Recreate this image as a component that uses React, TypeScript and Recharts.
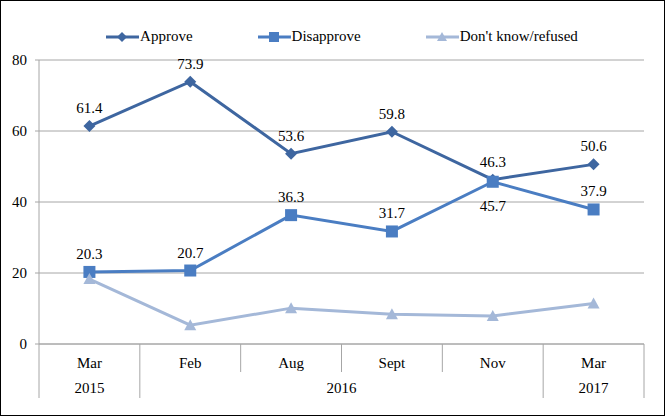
import React from 'react'
import { LineChart, Line, XAxis, YAxis, CartesianGrid, Legend, LabelList } from 'recharts'

const months = ['Mar', 'Feb', 'Aug', 'Sept', 'Nov', 'Mar']
const approve = [61.4, 73.9, 53.6, 59.8, 46.3, 50.6]
const disapprove = [20.3, 20.7, 36.3, 31.7, 45.7, 37.9]
const dontKnow = [18.3, 5.3, 10.1, 8.4, 7.9, 11.4]
const yearGroups = [
  { label: '2015', start: 0, end: 0 },
  { label: '2016', start: 1, end: 4 },
  { label: '2017', start: 5, end: 5 },
]
const yTicks = [0, 20, 40, 60, 80]

const data = months.map((m, i) => ({
  month: m,
  approve: approve[i],
  disapprove: disapprove[i],
  dontKnow: dontKnow[i],
}))

const W = 665
const H = 416
const LEFT = 39
const RIGHT = 21
const BAND = (W - LEFT - RIGHT) / months.length
const FONT = "'Times New Roman', 'Liberation Serif', 'DejaVu Serif', serif"
const FS = 15
const GRID = '#A6A6A6'
const C_APPROVE = '#3E66A0'
const C_DIS = '#4A7DC2'
const C_DK = '#A4B8D8'

const Diamond = ({ cx, cy, fill, s = 6 }: any) => (
  <polygon points={`${cx},${cy - s} ${cx + s},${cy} ${cx},${cy + s} ${cx - s},${cy}`} fill={fill} />
)
const Square = ({ cx, cy, fill, s = 6 }: any) => (
  <rect x={cx - s} y={cy - s} width={s * 2} height={s * 2} fill={fill} />
)
const Triangle = ({ cx, cy, fill, s = 6 }: any) => (
  <polygon points={`${cx},${cy - s} ${cx + s},${cy + s - 1} ${cx - s},${cy + s - 1}`} fill={fill} />
)

function MonthTick({ x, y, payload, index }: any) {
  const half = BAND / 2
  const isGroupEdge = yearGroups.some((g) => g.start === index)
  const group = yearGroups.find((g) => g.start === index)
  return (
    <g>
      <line x1={x - half} y1={y} x2={x - half} y2={y + (isGroupEdge ? 54 : 28)} stroke={GRID} />
      {index === months.length - 1 && (
        <line x1={x + half} y1={y} x2={x + half} y2={y + 54} stroke={GRID} />
      )}
      <text x={x} y={y + 24} textAnchor="middle" style={{ fontSize: FS, fontFamily: FONT }} fill="#000">
        {payload.value}
      </text>
      {group && (
        <text x={x + (group.end - group.start) * half} y={y + 49} textAnchor="middle" style={{ fontSize: FS, fontFamily: FONT }} fill="#000">
          {group.label}
        </text>
      )}
    </g>
  )
}

const legendItems = [
  { name: 'Approve', color: C_APPROVE, Shape: Diamond },
  { name: 'Disapprove', color: C_DIS, Shape: Square },
  { name: "Don't know/refused", color: C_DK, Shape: Triangle },
]

function LegendContent() {
  return (
    <div style={{ display: 'flex', justifyContent: 'center', gap: 65, fontFamily: FONT, fontSize: FS, paddingLeft: 40, paddingTop: 6 }}>
      {legendItems.map(({ name, color, Shape }) => (
        <div key={name} style={{ display: 'flex', alignItems: 'center' }}>
          <svg width={33} height={14} style={{ marginRight: 1 }}>
            <line x1={0} y1={7} x2={33} y2={7} stroke={color} strokeWidth={3} />
            <Shape cx={16} cy={7} fill={color} s={5} />
          </svg>
          <span>{name}</span>
        </div>
      ))}
    </div>
  )
}

const labelStyle = { fontSize: FS, fontFamily: FONT, fill: '#000' }

function DisLabel({ x, y, value, index }: any) {
  const below = index === 4
  return (
    <text x={x} y={below ? y + 29 : y - 13} textAnchor="middle" style={labelStyle}>
      {value}
    </text>
  )
}

export default function App() {
  return (
    <div style={{ position: 'fixed', left: 0, top: 0, width: W, height: H, border: '1px solid #000', boxSizing: 'border-box', background: '#fff', fontFamily: FONT }}>
      <LineChart width={W} height={H} data={data} margin={{ top: 22, right: RIGHT, left: 0, bottom: 14 }} style={{ position: 'absolute', left: -1, top: -1 }}>
        <CartesianGrid vertical={false} stroke={GRID} />
        <Legend verticalAlign="top" height={38} content={<LegendContent />} />
        <XAxis dataKey="month" stroke={GRID} tickLine={false} tickSize={0} tickMargin={0} height={58}
          padding={{ left: BAND / 2, right: BAND / 2 }} tick={<MonthTick />} interval={0} />
        <YAxis domain={[0, 80]} ticks={yTicks} width={LEFT} stroke={GRID} tickSize={4} tickMargin={8}
          tick={{ fill: '#000', fontSize: FS, style: { fontFamily: FONT } }} />
        <Line dataKey="approve" stroke={C_APPROVE} strokeWidth={3} isAnimationActive={false}
          dot={(p: any) => <Diamond key={p.index} cx={p.cx} cy={p.cy} fill={C_APPROVE} />}>
          <LabelList dataKey="approve" position="top" offset={13} style={labelStyle} />
        </Line>
        <Line dataKey="disapprove" stroke={C_DIS} strokeWidth={3} isAnimationActive={false}
          dot={(p: any) => <Square key={p.index} cx={p.cx} cy={p.cy} fill={C_DIS} />}>
          <LabelList dataKey="disapprove" content={<DisLabel />} />
        </Line>
        <Line dataKey="dontKnow" stroke={C_DK} strokeWidth={3} isAnimationActive={false}
          dot={(p: any) => <Triangle key={p.index} cx={p.cx} cy={p.cy} fill={C_DK} />} />
      </LineChart>
    </div>
  )
}
